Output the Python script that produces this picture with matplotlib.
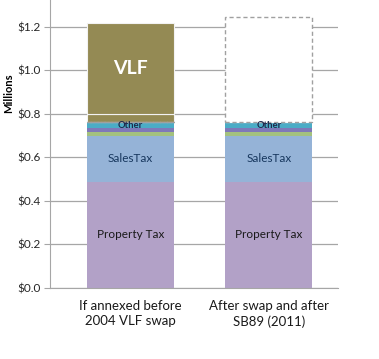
import numpy as np
import matplotlib.pyplot as plt

plt.rcParams['font.family'] = ['Lato', 'DejaVu Sans']

# data (millions of dollars)
scenarios = ['If annexed before\n2004 VLF swap', 'After swap and after\nSB89 (2011)']
property_tax = [0.489, 0.489]
sales_tax = [0.210, 0.210]
other_green = [0.018, 0.018]
other_purple = [0.019, 0.019]
other = [0.023, 0.023]
gap = [0.006, 0.006]
vlf_low = [0.035, 0.0]
vlf = [0.42, 0.0]
vlf_lost = [0.0, 0.48]

yticks = [0.0, 0.2, 0.4, 0.6, 0.8, 1.0, 1.2]

fig = plt.figure(figsize=(3.79, 3.59), dpi=100)
ax = fig.add_axes([0.132, 0.198, 0.760, 0.802])

x = np.arange(len(scenarios))
w = 0.63

ax.set_axisbelow(True)
ax.grid(axis='y', color='#a6a6a6', linewidth=0.9)

bottom = np.zeros(len(x))
segs = [
    (property_tax, '#b2a1c7'),
    (sales_tax, '#95b3d7'),
    (other_green, '#a3c17e'),
    (other_purple, '#7f78b8'),
    (other, '#4bacc6'),
]
for vals, col in segs:
    ax.bar(x, vals, w, bottom=bottom, color=col, linewidth=0, zorder=2)
    bottom = bottom + np.array(vals)

bottom = bottom + np.array(gap)
ax.bar(x, vlf_low, w, bottom=bottom, color='#948a54', edgecolor='#f2f2f2',
       linewidth=0.8, zorder=2)
bottom2 = bottom + np.array(vlf_low)
ax.bar(x, vlf, w, bottom=bottom2, color='#948a54', edgecolor='#f2f2f2',
       linewidth=0.8, zorder=2)
ax.bar(x, vlf_lost, w, bottom=bottom, facecolor='white', edgecolor='#a0a0a0',
       linewidth=1.0, linestyle=(0, (3, 2)), zorder=2)

# segment labels
for i in x:
    ax.text(i, property_tax[i] / 2, 'Property Tax', ha='center', va='center',
            fontsize=8.5, color='#1a1a1a', zorder=3)
    ax.text(i, property_tax[i] + sales_tax[i] / 2, 'SalesTax', ha='center',
            va='center', fontsize=8.5, color='#17375e', zorder=3)
    b = property_tax[i] + sales_tax[i] + other_green[i] + other_purple[i]
    ax.text(i, b + other[i] / 2 - 0.002, 'Other', ha='center', va='center',
            fontsize=6.8, fontweight='bold', color='#1f2a4d', zorder=3)
vb = property_tax[0] + sales_tax[0] + other_green[0] + other_purple[0] + other[0] + gap[0] + vlf_low[0]
ax.text(0, vb + vlf[0] / 2, 'VLF', ha='center', va='center', fontsize=14,
        fontweight='bold', color='white', zorder=3)

ax.set_xlim(-0.58, 1.5)
ax.set_ylim(0, 1.324)
ax.set_yticks(yticks)
ax.set_yticklabels(['$%.1f' % v for v in yticks], fontsize=8.5, color='#262626')
ax.set_xticks(x)
ax.set_xticklabels(scenarios, fontsize=9.5, color='#1a1a1a', linespacing=1.25)
ax.tick_params(axis='x', length=0, pad=9)
ax.tick_params(axis='y', length=4, color='#a6a6a6', pad=3)

for s in ['top', 'right']:
    ax.spines[s].set_visible(False)
ax.spines['left'].set_color('#a6a6a6')
ax.spines['bottom'].set_color('#a6a6a6')

fig.text(0.023, 0.74, 'Millions', rotation=90, ha='center', va='center',
         fontsize=8, fontweight='bold')

fig.savefig('out.png', dpi=100)
